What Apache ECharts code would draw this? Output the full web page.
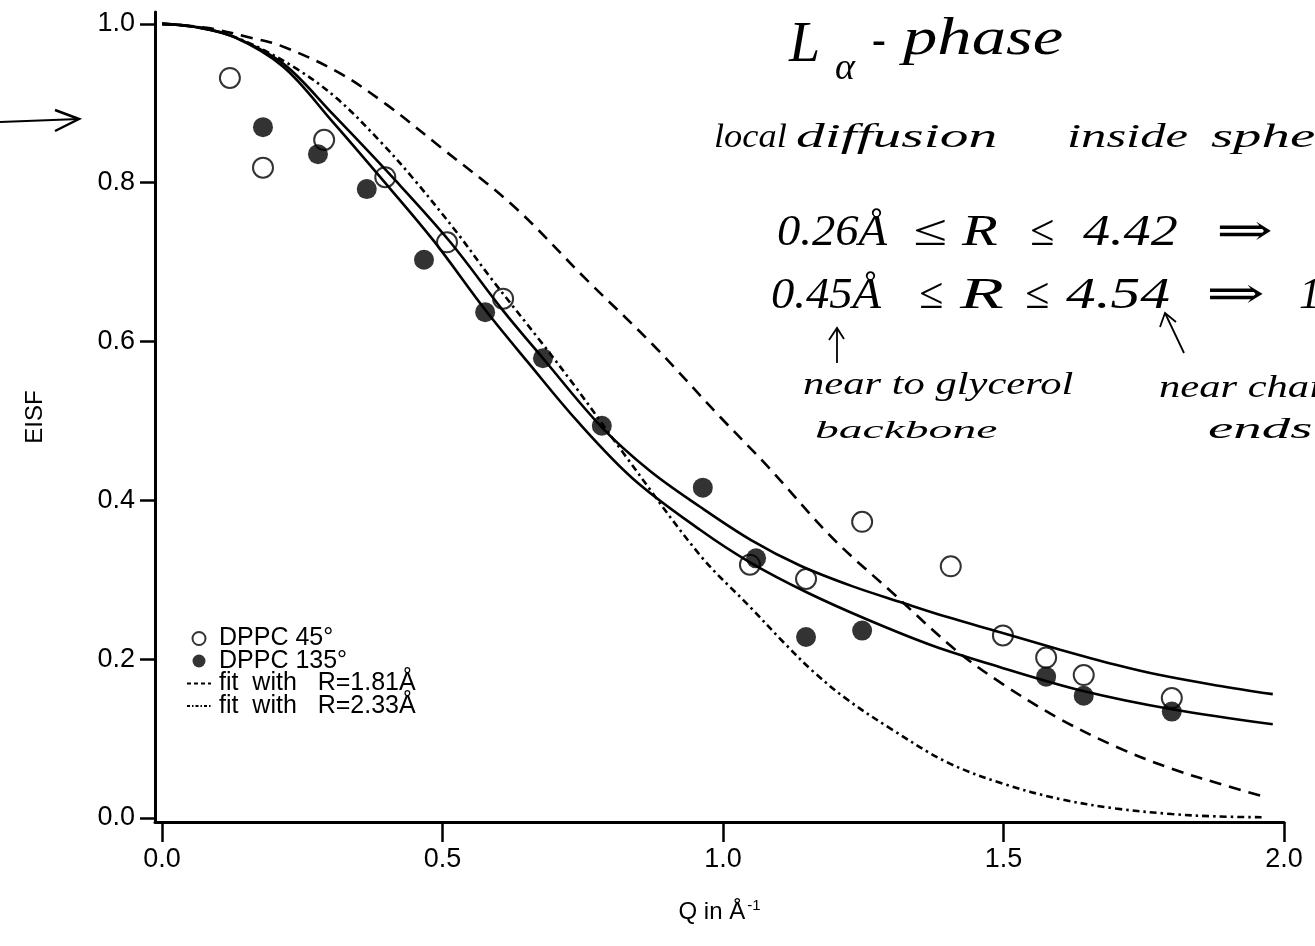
<!DOCTYPE html>
<html>
<head>
<meta charset="utf-8">
<script src="https://cdn.jsdelivr.net/npm/echarts@6/dist/echarts.min.js"></script>
<style>
  html, body { margin: 0; padding: 0; background: #fff; }
  #chart { width: 1315px; height: 946px; }
</style>
</head>
<body>
<div id="chart"></div>
<script>
// Elastic incoherent structure factor of DPPC, measured at two scattering angles
const qOpen = [0.121, 0.180, 0.289, 0.398, 0.508, 0.608, 1.048, 1.148, 1.248, 1.406, 1.499, 1.576, 1.643, 1.800];
const eisfOpen = [0.932, 0.819, 0.854, 0.807, 0.725, 0.654, 0.319, 0.301, 0.373, 0.317, 0.230, 0.202, 0.180, 0.151];

const qFilled = [0.180, 0.278, 0.365, 0.467, 0.576, 0.679, 0.784, 0.964, 1.059, 1.148, 1.248, 1.576, 1.643, 1.800];
const eisfFilled = [0.870, 0.836, 0.792, 0.703, 0.637, 0.579, 0.494, 0.416, 0.327, 0.228, 0.236, 0.178, 0.154, 0.134];

// Solid model curves (upper and lower)
const qSolidUpper = [0, 0.06, 0.127, 0.216, 0.305, 0.412, 0.513, 0.608, 0.679, 0.784, 0.87, 0.959, 1.05, 1.137, 1.23, 1.316, 1.40, 1.494, 1.601, 1.70, 1.779, 1.88, 1.98];
const eisfSolidUpper = [1.0, 0.996, 0.984, 0.950, 0.886, 0.806, 0.726, 0.639, 0.579, 0.492, 0.437, 0.392, 0.350, 0.318, 0.292, 0.272, 0.253, 0.234, 0.212, 0.193, 0.180, 0.167, 0.156];

const qSolidLower = [0, 0.06, 0.127, 0.216, 0.305, 0.383, 0.483, 0.576, 0.651, 0.74, 0.84, 0.959, 1.048, 1.15, 1.257, 1.374, 1.494, 1.642, 1.80, 1.98];
const eisfSolidLower = [1.0, 0.996, 0.984, 0.946, 0.876, 0.812, 0.728, 0.640, 0.575, 0.500, 0.427, 0.363, 0.322, 0.284, 0.250, 0.217, 0.190, 0.160, 0.137, 0.118];

// Diffusion-in-sphere fits
const qFitR181 = [0, 0.08, 0.162, 0.21, 0.312, 0.401, 0.496, 0.626, 0.758, 0.875, 0.995, 1.078, 1.196, 1.303, 1.414, 1.50, 1.60, 1.70, 1.80, 1.90, 1.96];
const eisfFitR181 = [1.0, 0.995, 0.982, 0.973, 0.940, 0.898, 0.845, 0.771, 0.677, 0.596, 0.505, 0.444, 0.352, 0.283, 0.212, 0.168, 0.125, 0.090, 0.062, 0.040, 0.028];

const qFitR233 = [0, 0.08, 0.152, 0.241, 0.312, 0.389, 0.447, 0.526, 0.585, 0.674, 0.740, 0.822, 0.959, 1.048, 1.107, 1.160, 1.22, 1.30, 1.40, 1.50, 1.60, 1.70, 1.80, 1.88, 1.96];
const eisfFitR233 = [1.0, 0.994, 0.977, 0.943, 0.906, 0.852, 0.806, 0.737, 0.681, 0.601, 0.540, 0.460, 0.331, 0.266, 0.222, 0.185, 0.150, 0.112, 0.070, 0.043, 0.024, 0.012, 0.005, 0.002, 0.001];

const xTicks = [0, 0.5, 1.0, 1.5, 2.0];
const yTicks = [0, 0.2, 0.4, 0.6, 0.8, 1.0];

const nameOpen = 'DPPC 45°';
const nameFilled = 'DPPC 135°';
const nameR181 = 'fit  with   R=1.81Å';
const nameR233 = 'fit  with   R=2.33Å';

const pairs = (xs, ys) => xs.map((x, i) => [x, ys[i]]);

const INK = '#000';
const SANS = '"Liberation Sans", Arial, Helvetica, sans-serif';
const HAND = '"Liberation Serif", "DejaVu Serif", serif';

const chart = echarts.init(document.getElementById('chart'), null, { renderer: 'canvas' });

// handwritten note, stretched horizontally by sx
function handText(text, x, y, size, sx) {
  return {
    type: 'text', x: x, y: y, scaleX: sx || 1, originX: 0, originY: 0,
    style: { text: text, fontFamily: HAND, fontStyle: 'italic', fontSize: size, fill: INK,
             verticalAlign: 'middle', align: 'left' },
    silent: true
  };
}
function stroke(points, w) {
  return { type: 'polyline', shape: { points: points }, style: { stroke: INK, lineWidth: w || 2, fill: null }, silent: true };
}

const option = {
  backgroundColor: '#fff',
  animation: false,
  grid: { left: 155, top: 12, width: 1129, height: 810, containLabel: false },
  xAxis: {
    type: 'value', min: -0.0125, max: 2.0,
    name: 'Q in Å{sup|-1}', nameLocation: 'middle', nameGap: 76,
    nameTextStyle: { fontFamily: SANS, fontSize: 24, color: INK,
      rich: { sup: { fontFamily: SANS, fontSize: 15, color: INK, padding: [0, 0, 13, 2] } } },
    axisLine: { show: true, onZero: false, lineStyle: { color: INK, width: 3 } },
    axisTick: { show: true, inside: false, length: 20, customValues: xTicks, lineStyle: { color: INK, width: 2.5 } },
    axisLabel: { show: true, margin: 24, customValues: xTicks, fontFamily: SANS, fontSize: 27, color: INK,
                 formatter: v => v.toFixed(1) },
    splitLine: { show: false }
  },
  yAxis: {
    type: 'value', min: -0.005, max: 1.015,
    name: 'EISF', nameLocation: 'middle', nameGap: 108, nameRotate: 90,
    nameTextStyle: { fontFamily: SANS, fontSize: 24, color: INK },
    axisLine: { show: true, onZero: false, lineStyle: { color: INK, width: 3 } },
    axisTick: { show: true, inside: false, length: 15, customValues: yTicks, lineStyle: { color: INK, width: 2.5 } },
    axisLabel: { show: true, margin: 20, customValues: yTicks, fontFamily: SANS, fontSize: 27, color: INK,
                 formatter: v => v.toFixed(1) },
    splitLine: { show: false }
  },
  legend: {
    orient: 'vertical', left: 181, top: 621, itemWidth: 24, itemHeight: 13, itemGap: -2.5,
    selectedMode: false,
    textStyle: { fontFamily: SANS, fontSize: 25, color: INK, padding: [0, 0, 0, 3] },
    data: [
      { name: nameOpen, icon: 'circle', itemStyle: { color: '#fff', borderColor: INK, borderWidth: 2 } },
      { name: nameFilled, icon: 'circle', itemStyle: { color: INK, borderWidth: 0 } },
      { name: nameR181, itemStyle: { opacity: 0 }, lineStyle: { type: [4, 3], width: 2, color: INK } },
      { name: nameR233, itemStyle: { opacity: 0 }, lineStyle: { type: [3, 2, 1.5, 2], width: 2, color: INK } }
    ]
  },
  series: [
    { name: 'upper solid curve', type: 'line', data: pairs(qSolidUpper, eisfSolidUpper), smooth: 0.35,
      symbol: 'none', lineStyle: { color: INK, width: 2.6, type: 'solid' }, z: 2 },
    { name: 'lower solid curve', type: 'line', data: pairs(qSolidLower, eisfSolidLower), smooth: 0.35,
      symbol: 'none', lineStyle: { color: INK, width: 2.6, type: 'solid' }, z: 2 },
    { name: nameR181, type: 'line', data: pairs(qFitR181, eisfFitR181), smooth: 0.35,
      symbol: 'none', itemStyle: { color: INK }, lineStyle: { color: INK, width: 2.6, type: [12, 8] }, z: 2 },
    { name: nameR233, type: 'line', data: pairs(qFitR233, eisfFitR233), smooth: 0.35,
      symbol: 'none', itemStyle: { color: INK }, lineStyle: { color: INK, width: 2.6, type: [7, 4, 2.5, 4] }, z: 2 },
    { name: nameFilled, type: 'scatter', data: pairs(qFilled, eisfFilled), symbol: 'circle', symbolSize: 20,
      itemStyle: { color: INK, borderWidth: 0 }, z: 3 },
    { name: nameOpen, type: 'scatter', data: pairs(qOpen, eisfOpen), symbol: 'circle', symbolSize: 20,
      itemStyle: { color: 'rgba(255,255,255,0)', borderColor: INK, borderWidth: 2 }, z: 4 }
  ],
  graphic: [
    // phase label
    handText('L', 789, 46, 56, 1),
    handText('α', 835, 69, 38, 1),
    handText('-', 872, 42, 46, 0.9),
    handText('phase', 903, 40, 52, 1.32),
    // description
    handText('local', 714, 138, 34, 1.07),
    handText('diffusion', 796, 138, 34, 1.69),
    handText('inside', 1067, 138, 34, 1.49),
    handText('sphere', 1211, 138, 34, 1.67),
    // radius ranges
    handText('0.26Å', 777, 233, 44, 1.06),
    handText('≤', 913, 233, 44, 1.4),
    handText('R', 962, 233, 44, 1.33),
    handText('≤', 1030, 233, 44, 1.0),
    handText('4.42', 1083, 233, 44, 1.23),
    handText('⇒', 1216, 233, 44, 1.55),

    handText('0.45Å', 771, 296, 44, 1.06),
    handText('≤', 919, 296, 44, 1.0),
    handText('R', 960, 296, 44, 1.63),
    handText('≤', 1025, 296, 44, 1.0),
    handText('4.54', 1066, 296, 44, 1.35),
    handText('⇒', 1206, 296, 44, 1.6),
    handText('1', 1299, 296, 44, 1.0),
    // where the limits apply
    handText('near to glycerol', 803, 386, 32, 1.33),
    handText('backbone', 815, 431, 26, 1.83),
    handText('near chain', 1159, 389, 32, 1.33),
    handText('ends', 1208, 430, 30, 1.9),
    // arrows
    stroke([[0, 122], [79, 119]], 2),
    stroke([[55, 110], [79, 119], [55, 131]], 2.5),
    stroke([[837, 363], [837, 328]], 1.8),
    stroke([[829, 340], [837, 328], [844, 339]], 1.8),
    stroke([[1184, 353], [1165, 313]], 1.8),
    stroke([[1160, 327], [1165, 313], [1176, 322]], 1.8)
  ]
};

chart.setOption(option);
</script>
</body>
</html>
